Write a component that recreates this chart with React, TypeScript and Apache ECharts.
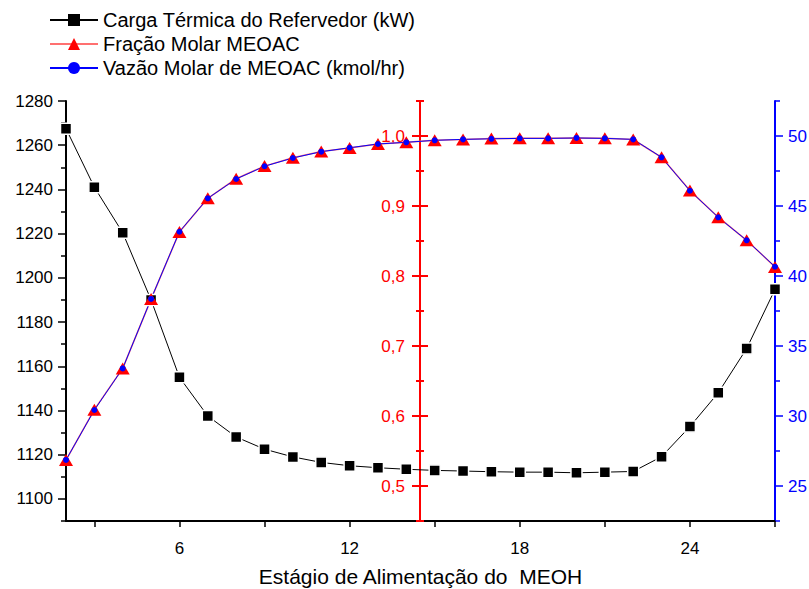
import React, { useEffect, useRef } from 'react';
import * as echarts from 'echarts';

const stages = [2, 3, 4, 5, 6, 7, 8, 9, 10, 11, 12, 13, 14, 15, 16, 17, 18, 19, 20, 21, 22, 23, 24, 25, 26, 27];
const heatDuty = [1267.5, 1241, 1220.4, 1190, 1155, 1137.5, 1128, 1122.5, 1119, 1116.5, 1115, 1114.1, 1113.4, 1112.9, 1112.6, 1112.3, 1112.1, 1112.1, 1111.8, 1112.1, 1112.4, 1119.1, 1132.7, 1148, 1168, 1194.8];
const moleFraction = [0.537, 0.609, 0.668, 0.767, 0.863, 0.911, 0.939, 0.957, 0.969, 0.978, 0.983, 0.9886, 0.991, 0.994, 0.995, 0.9963, 0.9967, 0.9967, 0.997, 0.9967, 0.995, 0.9696, 0.922, 0.884, 0.851, 0.813];
const molarFlow = [26.86, 30.43, 33.4, 38.36, 43.16, 45.55, 46.93, 47.84, 48.43, 48.88, 49.16, 49.43, 49.55, 49.69, 49.76, 49.8, 49.83, 49.83, 49.86, 49.83, 49.76, 48.48, 46.09, 44.19, 42.55, 40.66];

const seriesNames = ['Carga Térmica do Refervedor (kW)', 'Fração Molar MEOAC', 'Vazão Molar de MEOAC (kmol/hr)'];
const xTicks = [3, 6, 9, 12, 15, 18, 21, 24, 27];
const xLabels = [6, 12, 18, 24];
const dutyMajor = [1100, 1120, 1140, 1160, 1180, 1200, 1220, 1240, 1260, 1280];
const dutyMinor = [1090, 1110, 1130, 1150, 1170, 1190, 1210, 1230, 1250, 1270];
const fracMajor = [0.5, 0.6, 0.7, 0.8, 0.9, 1.0];
const fracMinor = [0.45, 0.55, 0.65, 0.75, 0.85, 0.95, 1.05];
const flowMajor = [25, 30, 35, 40, 45, 50];
const flowMinor = [22.5, 27.5, 32.5, 37.5, 42.5, 47.5, 52.5];

const FONT = "'Liberation Sans', Arial, sans-serif";
const RED = '#ff0000';
const BLUE = '#0000ff';
const LABEL_SIZE = 17;

function baseY(min: number, max: number, extra: any) {
  return {
    type: 'value',
    min,
    max,
    splitLine: { show: false },
    ...extra,
  };
}

export default function App() {
  const ref = useRef<HTMLDivElement>(null);
  useEffect(() => {
    if (!ref.current) return;
    const chart = echarts.init(ref.current, null, { renderer: 'svg' });
    const hidden = { show: false };
    const option: any = {
      animation: false,
      backgroundColor: '#ffffff',
      grid: { left: 66, right: 34, top: 101, bottom: 68, containLabel: false, outerBoundsMode: 'none' },
      legend: {
        orient: 'vertical',
        left: 49,
        top: 10,
        padding: 0,
        itemWidth: 48,
        itemHeight: 15,
        itemGap: 4,
        textStyle: { fontSize: 20, color: '#000', fontFamily: FONT },
        data: [
          { name: seriesNames[0], itemStyle: { borderWidth: 0 } },
          { name: seriesNames[1] },
          { name: seriesNames[2] },
        ],
      },
      xAxis: {
        type: 'value',
        min: 2,
        max: 27,
        name: 'Estágio de Alimentação do  MEOH',
        nameLocation: 'middle',
        nameGap: 45,
        nameTextStyle: { fontSize: 21, color: '#000', fontFamily: FONT },
        axisLine: { onZero: false, lineStyle: { color: '#000', width: 2 } },
        axisTick: { customValues: xTicks, length: 6, lineStyle: { color: '#000', width: 1.5 } },
        axisLabel: { customValues: xLabels, fontSize: LABEL_SIZE, color: '#000', margin: 19, fontFamily: FONT, formatter: (v: number) => String(v) },
        splitLine: { show: false },
      },
      yAxis: [
        baseY(1090, 1280, {
          position: 'left',
          axisLine: { show: true, lineStyle: { color: '#000', width: 2 } },
          axisTick: { customValues: dutyMajor, length: 8, lineStyle: { color: '#000', width: 1.5 } },
          axisLabel: { customValues: dutyMajor, fontSize: LABEL_SIZE, color: '#000', margin: 13, fontFamily: FONT, formatter: (v: number) => String(v) },
        }),
        baseY(1090, 1280, {
          position: 'left',
          axisLine: hidden,
          axisTick: { customValues: dutyMinor, length: 5, lineStyle: { color: '#000', width: 1.5 } },
          axisLabel: hidden,
        }),
        baseY(0.45, 1.05, {
          position: 'left',
          offset: -354,
          axisLine: { show: true, lineStyle: { color: RED, width: 2 } },
          axisTick: hidden,
          axisLabel: {
            customValues: fracMajor,
            fontSize: LABEL_SIZE,
            color: RED,
            margin: 15,
            fontFamily: FONT,
            formatter: (v: number) => v.toFixed(1).replace('.', ','),
          },
        }),
        baseY(0.45, 1.05, {
          position: 'left',
          offset: -362,
          axisLine: hidden,
          axisTick: { customValues: fracMajor, length: 16, lineStyle: { color: RED, width: 2 } },
          axisLabel: hidden,
        }),
        baseY(0.45, 1.05, {
          position: 'left',
          offset: -358,
          axisLine: hidden,
          axisTick: { customValues: fracMinor, length: 8, lineStyle: { color: RED, width: 2 } },
          axisLabel: hidden,
        }),
        baseY(22.5, 52.5, {
          position: 'right',
          axisLine: { show: true, lineStyle: { color: BLUE, width: 2 } },
          axisTick: { customValues: flowMajor, length: 8, lineStyle: { color: BLUE, width: 1.5 } },
          axisLabel: { customValues: flowMajor, fontSize: LABEL_SIZE, color: BLUE, margin: 13, fontFamily: FONT, formatter: (v: number) => String(v) },
        }),
        baseY(22.5, 52.5, {
          position: 'right',
          axisLine: hidden,
          axisTick: { customValues: flowMinor, length: 5, lineStyle: { color: BLUE, width: 1.5 } },
          axisLabel: hidden,
        }),
      ],
      series: [
        {
          name: seriesNames[0],
          type: 'line',
          yAxisIndex: 0,
          data: stages.map((x, i) => [x, heatDuty[i]]),
          symbol: 'rect',
          symbolSize: 11,
          lineStyle: { color: '#000', width: 1 },
          itemStyle: { color: '#000', borderColor: '#fff', borderWidth: 1.5 },
          emphasis: { disabled: true },
        },
        {
          name: seriesNames[1],
          type: 'line',
          yAxisIndex: 2,
          data: stages.map((x, i) => [x, moleFraction[i]]),
          symbol: 'triangle',
          symbolSize: [14, 12],
          lineStyle: { color: '#ff7070', width: 1.5 },
          itemStyle: { color: RED },
          emphasis: { disabled: true },
        },
        {
          name: seriesNames[2],
          type: 'line',
          yAxisIndex: 5,
          data: stages.map((x, i) => [x, molarFlow[i]]),
          symbol: 'circle',
          symbolSize: 6,
          lineStyle: { color: BLUE, width: 1 },
          itemStyle: { color: BLUE },
          emphasis: { disabled: true },
        },
      ],
    };
    chart.setOption(option);
    return () => chart.dispose();
  }, []);
  return (
    <div
      ref={ref}
      style={{ position: 'fixed', left: 0, top: 0, width: 809, height: 589, background: '#fff' }}
    />
  );
}
